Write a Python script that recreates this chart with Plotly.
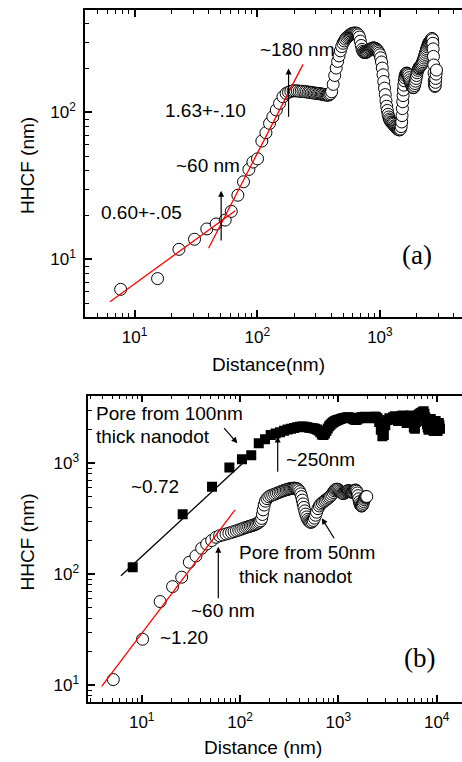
import plotly.graph_objects as go
import numpy as np

W, H = 462, 762

# ---------------- Panel (a) data ----------------
a_x = [7.7, 15.4, 23, 30.8, 38.8, 46.2, 54.8, 61.4, 69.5, 77.3, 85.5, 92.2, 100.5, 109, 117.7,
       126, 134, 143, 152, 162,
       172, 180, 188, 196, 204, 212, 220, 228, 236, 244, 252, 260, 268, 276, 284, 292, 300,
       308, 316, 324, 332, 340, 348, 356, 364, 372, 380, 388, 396,
       404, 416, 428, 440, 452, 464, 476, 488, 500, 512, 524, 536, 548, 560, 572, 584, 596,
       608, 620, 632, 644,
       656, 668, 680, 692, 704, 716, 728, 740, 752, 764, 776, 790, 805, 820, 835, 850, 865,
       880, 895, 910, 925, 940, 955, 970, 985, 1000,
       1015, 1030, 1045, 1060, 1075, 1090, 1105, 1120, 1135, 1150, 1165, 1180, 1195,
       1210, 1230, 1250, 1270, 1290, 1310, 1330, 1350, 1370, 1390, 1410, 1430, 1450, 1470, 1490,
       1505, 1515, 1525, 1535, 1545, 1555, 1565, 1580, 1595, 1610, 1625, 1640, 1655, 1670,
       1690, 1710, 1730, 1750, 1770, 1790, 1810, 1830, 1850, 1870, 1890,
       1910, 1930, 1950, 1970, 1990, 2010, 2035, 2060, 2085, 2110, 2135, 2160, 2185, 2210,
       2235, 2260, 2285, 2310, 2335, 2360, 2385, 2410, 2435, 2460, 2485, 2510, 2535, 2560,
       2585, 2610, 2635, 2660, 2685,
       2700, 2715, 2730, 2745, 2760, 2775, 2790, 2805, 2820, 2835, 2850, 2870, 2890]
a_y = [6.25, 7.4, 11.7, 13.7, 16.1, 17.4, 18.5, 21.2, 27.3, 33.7, 40.9, 45.9, 48.3, 63.8, 72.6,
       84.1, 93.3, 103.7, 115, 127.6,
       134.5, 137, 139, 140, 140, 140, 139, 139, 139, 138, 138, 137, 137, 136, 136, 135, 135,
       134, 134, 134, 133, 133, 132, 132, 131, 131, 131, 132, 134,
       138, 155, 178, 200, 222, 242, 262, 280, 295, 306, 315, 322, 328, 333, 337, 341, 344,
       345, 346, 346, 345,
       342, 336, 325, 305, 285, 268, 260, 256, 255, 255, 257, 259, 262, 266, 269, 271, 273,
       274, 274, 273, 271, 268, 264, 259, 253, 246,
       235, 220, 200, 180, 162, 146, 132, 120, 110, 103, 97, 93, 90,
       88, 86, 85, 84, 83, 81, 80, 79, 78, 77, 77, 76, 76, 77, 80,
       86, 95, 106, 118, 130, 142, 153, 164, 172, 178, 182, 184, 185, 184,
       182, 178, 172, 166, 161, 157, 153, 150, 148, 147, 148,
       152, 157, 163, 170, 178, 186, 193, 198, 201, 204, 206, 209, 212, 216,
       221, 227, 234, 241, 248, 256, 264, 271, 279, 286, 292, 297, 301, 304,
       307, 310, 314, 318, 312,
       295, 270, 240, 210, 185, 165, 155, 150, 152, 160, 170, 182, 194]

a_fit1_x = [6.3, 66.2]
a_fit1_y = [5.15, 21.4]
a_fit2_x = [40.1, 236]
a_fit2_y = [11.9, 212]

# ---------------- Panel (b) data ----------------
b_sq_x = [8.1, 26.1, 51.9, 77.9, 104.6, 130, 155, 179.5, 205,
          230, 255, 280, 305, 330, 355, 380, 405, 430, 455, 480, 505, 530, 555, 580, 605, 630,
          655, 680, 705, 730, 755, 780, 805, 830, 855, 880, 905, 930, 955, 980, 1000,
          1050, 1100, 1150, 1200, 1250, 1300, 1350, 1400, 1450, 1500, 1550, 1600, 1650, 1700,
          1750, 1800, 1850, 1900, 1950, 2000, 2100, 2200, 2300, 2400, 2500, 2600, 2700, 2800,
          2900, 3000, 3150, 3300, 3450, 3600, 3750, 3900, 4050, 4200, 4350, 4500, 4650, 4800,
          4950, 5100, 5250, 5400, 5550, 5700, 5850, 6000, 6150, 6300, 6450, 6600, 6750, 6900,
          7050, 7200, 7350, 7500, 7650, 7800, 7950, 8100, 8250, 8400, 8550, 8700, 8850, 9000,
          9150, 9300, 9450, 9600, 9750, 9900, 10050, 10200, 10350, 10500, 10650, 10800]
b_sq_y = [115.6, 347, 615, 914, 1087, 1180, 1514, 1645, 1799,
          1850, 1900, 1960, 2010, 2050, 2080, 2110, 2130, 2140, 2130, 2110, 2090, 2080, 2070,
          2050, 2020, 1970, 1900, 1820, 1800, 1850, 1950, 2060, 2150, 2220, 2280, 2330, 2370,
          2400, 2430, 2450, 2470,
          2500, 2540, 2560, 2580, 2600, 2590, 2560, 2520, 2480, 2450, 2480, 2530, 2570, 2590,
          2600, 2610, 2620, 2600, 2570, 2540, 2560, 2600, 2630, 2620, 2550, 2350, 2000, 1750,
          1800, 2200, 2450, 2550, 2480, 2600, 2650, 2550, 2400, 2550, 2650, 2700, 2600, 2450,
          2300, 2450, 2650, 2700, 2600, 2400, 2100, 2050, 2350, 2600, 2700, 2750, 2800, 2820,
          2850, 2900, 2950, 2800, 2600, 2400, 2250, 2100, 2000, 2150, 2350, 2500, 2400, 2250,
          2100, 1950, 2000, 2200, 2400, 2300, 2100, 1950, 2050, 2300, 2200, 2050]

b_ci_x = [5.14, 10.2, 15.4, 20.6, 25.5, 30.5, 35.6, 40.7, 45.8, 51.5, 57,
          62, 67, 72, 77, 82, 87, 92, 97, 102, 107, 112, 117, 122, 127, 132, 137, 142, 147,
          152, 157, 162, 166, 169, 172, 176, 181, 188, 196, 205, 215, 225, 235, 245, 255, 265,
          275, 285, 295, 305, 315, 325, 335, 345, 355, 365, 375, 385, 395, 405, 414, 422, 430,
          438, 446, 455, 465, 476, 488, 500, 512, 525, 540, 555, 570, 585, 600, 620, 640, 660,
          685, 710, 735, 760, 785, 810, 835, 860, 885, 910, 935, 960, 985, 1010, 1035, 1060,
          1085, 1110, 1135, 1160, 1185, 1210, 1235, 1260, 1285, 1310, 1335, 1360, 1385, 1410,
          1435, 1460, 1485, 1510, 1535, 1560, 1585, 1610, 1635, 1660, 1685, 1710, 1735, 1760,
          1785, 1810, 1835, 1860, 1885, 1910, 1945]
b_ci_y = [11.2, 25.9, 56.6, 77.2, 93.9, 128, 146, 171, 187, 201, 215,
          222, 226, 230, 234, 238, 242, 246, 250, 254, 258, 262, 265, 268, 271, 274, 277, 280,
          284, 289, 295, 303, 318, 345, 380, 420, 455, 480, 498, 510, 518, 526, 535, 543, 551,
          558, 565, 571, 577, 582, 586, 590, 593, 595, 596, 595, 592, 585, 574, 555, 530, 500,
          465, 430, 400, 372, 348, 328, 312, 302, 296, 293, 296, 305, 320, 340, 362, 390, 412,
          428, 440, 452, 462, 473, 484, 495, 508, 525, 545, 565, 578, 584, 582, 574, 562, 550,
          540, 534, 534, 540, 548, 555, 562, 566, 565, 560, 554, 549, 548, 552, 560, 568, 573,
          572, 560, 540, 510, 478, 450, 430, 418, 412, 412, 420, 435, 452, 470, 485, 495, 500,
          501]

b_fit_red_x = [3.92, 88.9]
b_fit_red_y = [9.72, 379]
b_fit_blk_x = [6.15, 106.4]
b_fit_blk_y = [96.6, 1000]

a_xtick_vals = [10, 100, 1000]
a_xtick_text = ["10<sup>1</sup>", "10<sup>2</sup>", "10<sup>3</sup>"]
a_ytick_vals = [10, 100]
a_ytick_text = ["10<sup>1</sup>", "10<sup>2</sup>"]
b_xtick_vals = [10, 100, 1000, 10000]
b_xtick_text = ["10<sup>1</sup>", "10<sup>2</sup>", "10<sup>3</sup>", "10<sup>4</sup>"]
b_ytick_vals = [10, 100, 1000]
b_ytick_text = ["10<sup>1</sup>", "10<sup>2</sup>", "10<sup>3</sup>"]

minor_vals = [m * 10 ** d for d in range(0, 5) for m in range(2, 10)]

SANS = "Liberation Sans, Arial, sans-serif"
SERIF = "Liberation Serif, Times New Roman, serif"


def px(x):
    return x / W


def py(y):
    return 1 - y / H


fig = go.Figure()

circ = dict(symbol="circle", size=12, color="white", line=dict(color="black", width=1))

fig.add_trace(go.Scatter(x=a_x, y=a_y, mode="markers", marker=circ, xaxis="x", yaxis="y"))
fig.add_trace(go.Scatter(x=a_fit1_x, y=a_fit1_y, mode="lines", line=dict(color="#ff0000", width=1.3),
                         xaxis="x", yaxis="y"))
fig.add_trace(go.Scatter(x=a_fit2_x, y=a_fit2_y, mode="lines", line=dict(color="#ff0000", width=1.3),
                         xaxis="x", yaxis="y"))

fig.add_trace(go.Scatter(x=b_sq_x, y=b_sq_y, mode="markers",
                         marker=dict(symbol="square", size=10, color="black", line=dict(width=0)),
                         xaxis="x2", yaxis="y2"))
fig.add_trace(go.Scatter(x=b_ci_x, y=b_ci_y, mode="markers", marker=circ, xaxis="x2", yaxis="y2"))
fig.add_trace(go.Scatter(x=b_fit_blk_x, y=b_fit_blk_y, mode="lines", line=dict(color="black", width=1.3),
                         xaxis="x2", yaxis="y2"))
fig.add_trace(go.Scatter(x=b_fit_red_x, y=b_fit_red_y, mode="lines", line=dict(color="#ff0000", width=1.3),
                         xaxis="x2", yaxis="y2"))


def axis(domain, rng, anchor, tv, tt, mirror, showline=True, labels=True, **kw):
    d = dict(domain=domain, range=rng, anchor=anchor, type="log",
             showline=showline, linecolor="black", linewidth=1.5, mirror=mirror,
             ticks="inside", ticklen=7, tickwidth=1.5, tickcolor="black",
             tickmode="array", tickvals=tv, ticktext=tt, showticklabels=labels,
             tickfont=dict(family=SANS, size=17, color="black"),
             ticklabelstandoff=4,
             minor=dict(tickmode="array", tickvals=minor_vals, ticks="inside", ticklen=4,
                        tickwidth=1.2, tickcolor="black", showgrid=False),
             showgrid=False, zeroline=False)
    d.update(kw)
    return d


fig.update_layout(
    width=W, height=H,
    margin=dict(l=0, r=0, t=0, b=0, autoexpand=False),
    paper_bgcolor="white", plot_bgcolor="white",
    showlegend=False,
    xaxis=axis([px(85), 1.0], [0.596, 3.669], "y", a_xtick_vals, a_xtick_text, "allticks"),
    yaxis=axis([py(317), py(10)], [0.608, 2.696], "x", a_ytick_vals, a_ytick_text, False),
    yaxis3=axis([py(317), py(10)], [0.608, 2.696], "x", a_ytick_vals, a_ytick_text, False,
                showline=False, labels=False, overlaying="y", side="right"),
    xaxis2=axis([px(88.3), 1.0], [0.457, 4.257], "y2", b_xtick_vals, b_xtick_text, "allticks"),
    yaxis2=axis([py(701.7), py(395.7)], [0.85, 3.609], "x2", b_ytick_vals, b_ytick_text, False),
    yaxis4=axis([py(701.7), py(395.7)], [0.85, 3.609], "x2", b_ytick_vals, b_ytick_text, False,
                showline=False, labels=False, overlaying="y2", side="right"),
)

ann = []


def text(x, y, s, size=19, family=SANS, xanchor="center"):
    ann.append(dict(x=px(x), y=py(y), xref="paper", yref="paper", text=s, showarrow=False,
                    xanchor=xanchor, yanchor="middle",
                    font=dict(family=family, size=size, color="black")))


def arrow(xr, yr, x0, y0, x1, y1):
    lx0, ly0, lx1, ly1 = np.log10([x0, y0, x1, y1])
    ann.append(dict(x=lx1, y=ly1, ax=lx0, ay=ly0, xref=xr, yref=yr, axref=xr, ayref=yr,
                    text="", showarrow=True, arrowhead=2, arrowsize=1, arrowwidth=1.2,
                    arrowcolor="black", standoff=0, startstandoff=0))


# panel (a)
text(296.7, 50, "~180 nm")
text(205, 110.7, "1.63+-.10")
text(208.3, 165.7, "~60 nm")
text(141.7, 212.3, "0.60+-.05")
text(416.7, 255, "(a)", size=27, family=SERIF)
text(27, 166, "HHCF (nm)")
ann[-1]["textangle"] = -90
text(268.7, 364, "Distance(nm)")
arrow("x", "y", 50.8, 13.1, 50.8, 29.3)
arrow("x", "y", 180, 91, 180, 199)

# panel (b)
text(94.3, 413.3, "Pore from 100nm", xanchor="left")
text(94.3, 436, "thick nanodot", xanchor="left")
text(155, 486, "~0.72")
text(284, 459, "~250nm", xanchor="left")
text(237.3, 552.7, "Pore from 50nm", xanchor="left")
text(237.3, 576, "thick nanodot", xanchor="left")
text(222.7, 610.7, "~60 nm")
text(184, 637.3, "~1.20")
text(419.3, 658.3, "(b)", size=27, family=SERIF)
text(27, 542.5, "HHCF (nm)")
ann[-1]["textangle"] = -90
text(263, 747, "Distance (nm)")
arrow("x2", "y2", 241.5, 813, 241.5, 1738)
arrow("x2", "y2", 60.1, 58.7, 60.1, 177)
arrow("x2", "y2", 66.7, 2138, 94, 1514)
arrow("x2", "y2", 925, 204, 678, 319)

fig.update_layout(annotations=ann)
fig.write_html("out.html", config={"displayModeBar": False},
               post_script="document.body.style.margin='0px';document.body.style.overflow='hidden';")
